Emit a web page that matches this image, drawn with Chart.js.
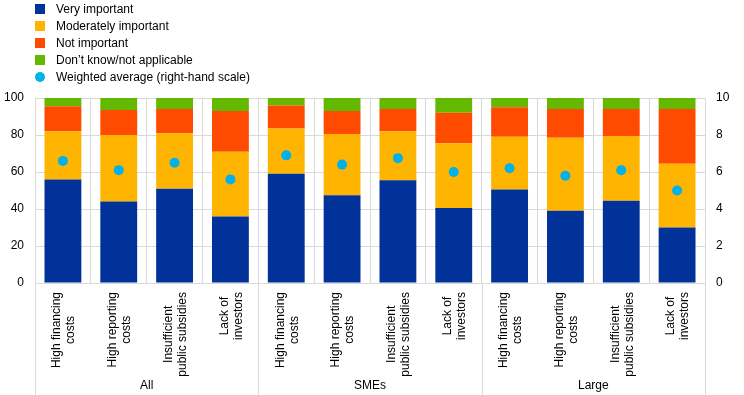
<!DOCTYPE html>
<html>
<head>
<meta charset="utf-8">
<script src="https://cdn.jsdelivr.net/npm/chart.js@4/dist/chart.umd.min.js"></script>
<style>
  html, body { margin: 0; padding: 0; background: #fff; }
  #wrap { position: relative; width: 744px; height: 395px; font-family: "Liberation Sans", Arial, sans-serif; }
  #legend { position: absolute; left: 35px; top: 1px; font-size: 12px; color: #000; }
  #legend .item { height: 17px; line-height: 17px; white-space: nowrap; }
  #legend .mark { display: inline-block; width: 10px; height: 10px; vertical-align: -1px; margin-right: 11px; }
  #legend .dot { border-radius: 50%; }
  canvas { position: absolute; left: 0; top: 0; }
</style>
</head>
<body>
<div id="wrap">
  <canvas id="chart" width="744" height="395"></canvas>
  <div id="legend"></div>
</div>
<script>
// --- 데이터 ---
const categories = [
    ["High financing", "costs"], ["High reporting", "costs"], ["Insufficient", "public subsidies"], ["Lack of", "investors"],
    ["High financing", "costs"], ["High reporting", "costs"], ["Insufficient", "public subsidies"], ["Lack of", "investors"],
    ["High financing", "costs"], ["High reporting", "costs"], ["Insufficient", "public subsidies"], ["Lack of", "investors"]
];
const groups = ["All", "SMEs", "Large"];

const veryImportant       = [56, 44, 51, 36, 59, 47.5, 55.5, 40.5, 50.5, 39, 44.5, 30];
const moderatelyImportant = [26, 36, 30, 35, 24.5, 33, 26.5, 35, 28.5, 39.5, 35, 34.5];
const notImportant        = [13.5, 13.5, 13, 22, 12.5, 12.5, 12, 16.5, 16, 15.5, 14.5, 29.5];
const dontKnow            = [4.5, 6.5, 6, 7, 4, 7, 6, 8, 5, 6, 6, 6];
const weightedAverage     = [6.6, 6.1, 6.5, 5.6, 6.9, 6.4, 6.75, 6.0, 6.2, 5.8, 6.1, 5.0];

const leftTicks = [0, 20, 40, 60, 80, 100];
const rightTicks = [0, 2, 4, 6, 8, 10];

const FONT = '"Liberation Sans", Arial, sans-serif';
const GRID = '#d9d9d9';

const barSeries = [
    { label: 'Very important', data: veryImportant, color: '#003299' },
    { label: 'Moderately important', data: moderatelyImportant, color: '#FFB400' },
    { label: 'Not important', data: notImportant, color: '#FF4B00' },
    { label: 'Don\u2019t know/not applicable', data: dontKnow, color: '#65B800' }
];
const dotSeries = { label: 'Weighted average (right-hand scale)', data: weightedAverage, color: '#00B1EA' };

// --- 범례 (HTML) ---
const legendEl = document.getElementById('legend');
barSeries.concat([dotSeries]).forEach((s, i) => {
    const isDot = i === barSeries.length;
    legendEl.innerHTML += `<div class="item"><span class="mark${isDot ? ' dot' : ''}" style="background:${s.color}"></span>${s.label}</div>`;
});

// --- x축 라벨 / 그룹 구분선 플러그인 ---
const groupLabels = {
    id: 'groupLabels',
    afterDraw(chart) {
        const ctx = chart.ctx;
        const xs = chart.scales.x;
        const area = chart.chartArea;
        ctx.save();
        ctx.fillStyle = '#000';
        ctx.font = '12px ' + FONT;
        ctx.textAlign = 'center';
        ctx.textBaseline = 'middle';

        // 회전된 카테고리 라벨
        categories.forEach((lines, i) => {
            const x = xs.getPixelForValue(i) + 1;
            const maxW = Math.max(...lines.map(l => ctx.measureText(l).width));
            const yc = area.bottom + 9 + maxW / 2;
            ctx.save();
            ctx.translate(x, yc);
            ctx.rotate(-Math.PI / 2);
            lines.forEach((l, k) => {
                ctx.fillText(l, 0, (k - (lines.length - 1) / 2) * 14);
            });
            ctx.restore();
        });

        // 그룹 구분선 + 그룹 라벨
        const per = categories.length / groups.length;
        const half = (xs.getPixelForValue(1) - xs.getPixelForValue(0)) / 2;
        ctx.strokeStyle = GRID;
        ctx.lineWidth = 1;
        for (let g = 0; g <= groups.length; g++) {
            const idx = Math.min(g * per, categories.length - 1);
            const x = Math.round(g * per >= categories.length ? xs.getPixelForValue(idx) + half : xs.getPixelForValue(idx) - half) + 0.5;
            ctx.beginPath();
            ctx.moveTo(x, area.bottom);
            ctx.lineTo(x, chart.height);
            ctx.stroke();
        }
        groups.forEach((name, g) => {
            const a = xs.getPixelForValue(g * per) - half;
            const b = xs.getPixelForValue(g * per + per - 1) + half;
            ctx.fillText(name, (a + b) / 2, chart.height - 9);
        });
        ctx.restore();
    }
};

// --- 차트 ---
const ctx = document.getElementById('chart').getContext('2d');
new Chart(ctx, {
    type: 'bar',
    data: {
        labels: categories.map(c => c.join(' ')),
        datasets: [{
            type: 'line',
            label: dotSeries.label,
            data: dotSeries.data,
            yAxisID: 'y1',
            showLine: false,
            pointRadius: 5,
            pointBackgroundColor: dotSeries.color,
            pointBorderWidth: 0,
            order: 0
        }].concat(barSeries.map(s => ({
            label: s.label,
            data: s.data,
            backgroundColor: s.color,
            borderWidth: 0,
            yAxisID: 'y',
            categoryPercentage: 1,
            barPercentage: 0.66,
            order: 1
        })))
    },
    options: {
        responsive: false,
        animation: false,
        layout: { padding: { top: 98, left: 0, right: 0, bottom: 112 } },
        plugins: {
            legend: { display: false },
            tooltip: { enabled: false }
        },
        scales: {
            x: {
                stacked: true,
                ticks: { display: false },
                grid: { color: GRID, offset: true, drawTicks: false },
                border: { color: GRID }
            },
            y: {
                stacked: true,
                min: 0, max: 100,
                afterBuildTicks: axis => { axis.ticks = leftTicks.map(v => ({ value: v })); },
                afterFit: axis => { axis.width = 35; },
                ticks: { color: '#000', font: { family: FONT, size: 12 }, padding: 11 },
                grid: { color: GRID, drawTicks: false },
                border: { color: GRID }
            },
            y1: {
                position: 'right',
                min: 0, max: 10,
                afterBuildTicks: axis => { axis.ticks = rightTicks.map(v => ({ value: v })); },
                afterFit: axis => { axis.width = 39; },
                ticks: { color: '#000', font: { family: FONT, size: 12 }, padding: 11 },
                grid: { drawOnChartArea: false, drawTicks: false },
                border: { color: GRID }
            }
        }
    },
    plugins: [groupLabels]
});
</script>
</body>
</html>
